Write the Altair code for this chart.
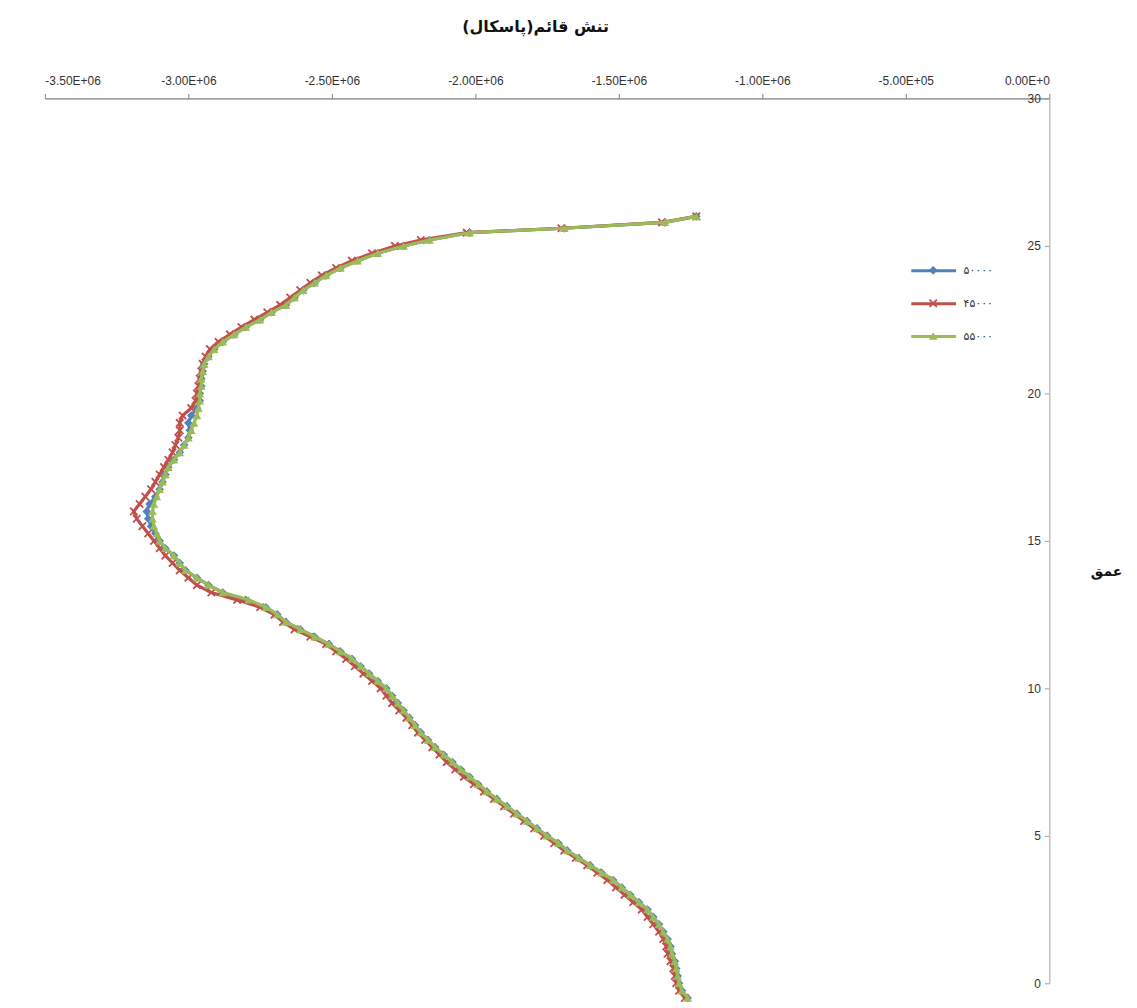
import altair as alt
import pandas as pd

# depth (m)
depth = [-0.5, -0.25, 0, 0.25, 0.5, 0.75, 1, 1.25, 1.5, 1.75, 2, 2.25, 2.5, 2.75, 3, 3.25,
         3.5, 3.75, 4, 4.25, 4.5, 4.75, 5, 5.25, 5.5, 5.75, 6, 6.25, 6.5, 6.75, 7, 7.25,
         7.5, 7.75, 8, 8.25, 8.5, 8.75, 9, 9.25, 9.5, 9.75, 10, 10.25, 10.5, 10.75, 11, 11.25,
         11.5, 11.75, 12, 12.25, 12.5, 12.75, 13, 13.25, 13.5, 13.75, 14, 14.25, 14.5, 14.75,
         15, 15.25, 15.5, 15.75, 16, 16.25, 16.5, 16.75, 17, 17.25, 17.5, 17.75, 18, 18.25,
         18.5, 18.75, 19, 19.25, 19.5, 19.75, 20, 20.25, 20.5, 20.75, 21, 21.25, 21.5, 21.75,
         22, 22.25, 22.5, 22.75, 23, 23.25, 23.5, 23.75, 24, 24.25, 24.5, 24.75, 25,
         25.2, 25.45, 25.6, 25.8, 26]

# vertical stress (millions of Pa)
s50000 = [-1.26, -1.28, -1.29, -1.295, -1.30, -1.305, -1.315, -1.32, -1.33, -1.345, -1.36, -1.38,
          -1.40, -1.43, -1.46, -1.49, -1.52, -1.56, -1.60, -1.64, -1.68, -1.71, -1.75, -1.785,
          -1.82, -1.855, -1.89, -1.925, -1.96, -1.99, -2.02, -2.05, -2.08, -2.11, -2.14, -2.165,
          -2.19, -2.21, -2.23, -2.25, -2.27, -2.29, -2.31, -2.34, -2.37, -2.40, -2.43, -2.47,
          -2.51, -2.56, -2.61, -2.66, -2.69, -2.73, -2.80, -2.88, -2.93, -2.97, -3.01, -3.03,
          -3.05, -3.08, -3.10, -3.115, -3.13, -3.14, -3.145, -3.135, -3.115, -3.10, -3.09, -3.08,
          -3.07, -3.05, -3.03, -3.015, -3.00, -2.995, -3.00, -2.99, -2.97, -2.96, -2.96, -2.955,
          -2.955, -2.95, -2.945, -2.93, -2.91, -2.88, -2.84, -2.80, -2.75, -2.71, -2.66, -2.63,
          -2.60, -2.56, -2.52, -2.47, -2.41, -2.34, -2.25,
          -2.16, -2.02, -1.69, -1.34, -1.23]
s45000 = [-1.27, -1.29, -1.30, -1.305, -1.31, -1.32, -1.33, -1.335, -1.345, -1.36, -1.38, -1.40,
          -1.42, -1.45, -1.48, -1.51, -1.54, -1.575, -1.61, -1.65, -1.69, -1.725, -1.76, -1.795,
          -1.83, -1.865, -1.90, -1.935, -1.97, -2.005, -2.04, -2.07, -2.10, -2.125, -2.15, -2.175,
          -2.20, -2.22, -2.24, -2.265, -2.29, -2.31, -2.33, -2.36, -2.39, -2.42, -2.45, -2.485,
          -2.52, -2.575, -2.63, -2.67, -2.70, -2.75, -2.83, -2.92, -2.97, -3.00, -3.03, -3.055,
          -3.08, -3.10, -3.12, -3.14, -3.16, -3.18, -3.19, -3.17, -3.15, -3.13, -3.115, -3.10,
          -3.085, -3.07, -3.055, -3.045, -3.035, -3.03, -3.03, -3.02, -2.99, -2.975, -2.97, -2.965,
          -2.96, -2.955, -2.95, -2.94, -2.925, -2.895, -2.855, -2.815, -2.77, -2.725, -2.68, -2.645,
          -2.61, -2.575, -2.535, -2.485, -2.43, -2.36, -2.28,
          -2.19, -2.03, -1.70, -1.35, -1.23]
s55000 = [-1.26, -1.28, -1.29, -1.295, -1.30, -1.305, -1.315, -1.32, -1.33, -1.345, -1.36, -1.38,
          -1.40, -1.43, -1.46, -1.49, -1.52, -1.56, -1.60, -1.64, -1.68, -1.71, -1.75, -1.785,
          -1.82, -1.855, -1.89, -1.925, -1.96, -1.99, -2.02, -2.05, -2.08, -2.11, -2.14, -2.165,
          -2.19, -2.21, -2.23, -2.25, -2.27, -2.29, -2.31, -2.34, -2.37, -2.40, -2.43, -2.47,
          -2.51, -2.56, -2.61, -2.66, -2.69, -2.73, -2.79, -2.88, -2.93, -2.97, -3.01, -3.03,
          -3.05, -3.08, -3.10, -3.11, -3.12, -3.125, -3.125, -3.12, -3.11, -3.10, -3.09, -3.08,
          -3.07, -3.05, -3.03, -3.015, -3.00, -2.99, -2.98, -2.97, -2.965, -2.96, -2.96, -2.955,
          -2.955, -2.95, -2.945, -2.93, -2.91, -2.88, -2.84, -2.80, -2.75, -2.71, -2.66, -2.63,
          -2.60, -2.56, -2.52, -2.47, -2.41, -2.34, -2.25,
          -2.16, -2.02, -1.69, -1.34, -1.23]

series_names = ["۵۰۰۰۰", "۴۵۰۰۰", "۵۵۰۰۰"]
line_keys = ["L" + s for s in series_names]
colors = ["#4F81BD", "#C0504D", "#9BBB59"]
x_path = ("M-1,-0.7L-0.7,-1L0,-0.3L0.7,-1L1,-0.7L0.3,0L1,0.7L0.7,1L0,0.3"
          "L-0.7,1L-1,0.7L-0.3,0Z")
shapes = ["diamond", x_path, "triangle-up"]

x_ticks = [-3500000, -3000000, -2500000, -2000000, -1500000, -1000000, -500000, 0]
y_ticks = [0, 5, 10, 15, 20, 25, 30]

label_font = "Liberation Sans Narrow, Liberation Sans, sans-serif"

x_enc = alt.X(
    "stress:Q",
    scale=alt.Scale(domain=[-3500000, 0], nice=False, zero=False),
    axis=alt.Axis(
        orient="top",
        values=x_ticks,
        labelExpr="datum.value == 0 ? '0.00E+0' : replace(replace(format(datum.value, '.2e'), 'e+', 'E+0'), '−', '-')",
        title="تنش قائم(پاسکال)",
        titleFont="DejaVu Sans",
        titleFontSize=16,
        titleFontWeight="bold",
        titleColor="#111111",
        titlePadding=40,
        titleX=492,
        grid=False,
        domainColor="#7f7f7f",
        domainWidth=1.2,
        tickColor="#7f7f7f",
        tickSize=5,
        labelFont=label_font,
        labelFontSize=12,
        labelColor="#333333",
        labelPadding=6,
    ),
)
y_enc = alt.Y(
    "depth:Q",
    scale=alt.Scale(domain=[0, 30], nice=False, zero=False),
    axis=alt.Axis(
        orient="left",
        offset=-1008,
        values=y_ticks,
        title="عمق",
        titleFont="DejaVu Sans",
        titleFontSize=14,
        titleFontWeight="bold",
        titleColor="#111111",
        titleAngle=0,
        titleX=57,
        titleY=475,
        titleAlign="center",
        titleBaseline="middle",
        grid=False,
        domainColor="#bfbfbf",
        domainWidth=1.5,
        tickColor="#9f9f9f",
        tickSize=5,
        labelFont=label_font,
        labelFontSize=12,
        labelColor="#333333",
        labelPadding=4,
    ),
)

line_legend = alt.Legend(
    title=None, orient="none", legendX=868, legendY=149, padding=0,
    symbolType="stroke", symbolSize=2025, symbolStrokeWidth=3,
    rowPadding=3, labelOffset=6, labelExpr="slice(datum.label, 1)",
    labelFont="DejaVu Sans", labelFontSize=11, labelColor="#333333",
)
marker_legend = alt.Legend(
    title=None, orient="none", legendX=886, legendY=167, padding=0,
    symbolSize=75, symbolStrokeWidth=0, rowPadding=21, labelOffset=6,
    labelExpr="''", labelFont="DejaVu Sans", labelFontSize=11,
)

stroke_enc = alt.Stroke(
    "series_line:N", scale=alt.Scale(domain=line_keys, range=colors),
    sort=line_keys, legend=line_legend,
)
fill_enc = alt.Fill(
    "series:N", scale=alt.Scale(domain=series_names, range=colors),
    sort=series_names, legend=marker_legend,
)
shape_enc = alt.Shape(
    "series:N", scale=alt.Scale(domain=series_names, range=shapes),
    sort=series_names, legend=marker_legend,
)

layers = []
for name, key, vals in zip(series_names, line_keys, [s50000, s45000, s55000]):
    d = pd.DataFrame({
        "series": name,
        "series_line": key,
        "depth": depth,
        "stress": [v * 1e6 for v in vals],
        "idx": list(range(len(depth))),
    })
    line = alt.Chart(d).mark_line(strokeWidth=3.2).encode(
        x=x_enc, y=y_enc, stroke=stroke_enc, order=alt.Order("idx:Q"),
    )
    pts = alt.Chart(d).mark_point(filled=True, size=75, opacity=1, strokeWidth=0).encode(
        x=x_enc, y=y_enc, fill=fill_enc, shape=shape_enc,
    )
    layers += [line, pts]

chart = alt.layer(*layers).properties(
    width=1008,
    height=888,
    background="white",
    autosize=alt.AutoSizeParams(type="none"),
    padding={"left": 37, "top": 89, "right": 80, "bottom": 20},
).configure_view(strokeWidth=0)

chart.save("out.html", embed_options={"renderer": "svg", "actions": False})
